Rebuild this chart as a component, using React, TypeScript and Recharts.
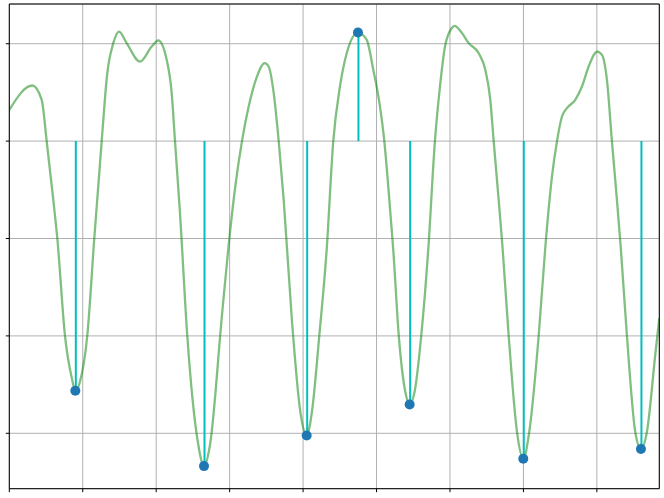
import { ComposedChart, Line, Bar, Scatter, XAxis, YAxis, CartesianGrid } from 'recharts';

// smooth curve
const curveX = [
  0, 0.313, 0.441, 0.509, 0.599, 0.654, 0.758, 0.85, 0.899, 0.963, 1.062, 1.157, 1.258, 1.334, 1.416, 1.494,
  1.598, 1.779, 1.939, 2.029, 2.143, 2.211, 2.256, 2.324, 2.423, 2.573, 2.651, 2.733, 2.896, 2.987, 3.077,
  3.168, 3.259, 3.372, 3.477, 3.531, 3.6, 3.668, 3.736, 3.849, 3.962, 4.049, 4.121, 4.221, 4.321, 4.411,
  4.502, 4.594, 4.747, 4.866, 4.956, 5.04, 5.106, 5.16, 5.228, 5.302, 5.391, 5.451, 5.519, 5.609, 5.704,
  5.795, 5.864, 5.932, 6.023, 6.064, 6.164, 6.255, 6.391, 6.481, 6.549, 6.595, 6.663, 6.713, 6.799, 6.912,
  6.998, 7.08, 7.208, 7.298, 7.389, 7.457, 7.525, 7.593, 7.706, 7.797, 7.888, 8.005, 8.069, 8.137, 8.205,
  8.273, 8.325, 8.409, 8.522, 8.6, 8.682, 8.795, 8.85,
];
const curveY = [
  0.321, 0.571, 0.424, 0, -0.603, -1.0, -1.996, -2.43, -2.564, -2.468, -1.996, -1.0, 0, 0.698, 1.006, 1.125,
  1.006, 0.817, 0.971, 1.033, 0.835, 0.493, 0, -0.739, -1.996, -3.118, -3.337, -3.118, -1.783, -1.065, -0.466,
  0, 0.355, 0.663, 0.801, 0.766, 0.493, 0, -0.603, -1.852, -2.776, -3.023, -2.776, -1.996, -1.116, 0,
  0.561, 0.903, 1.115, 1.04, 0.732, 0.39, 0, -0.466, -1.116, -1.989, -2.571, -2.704, -2.571, -1.996, -1.116,
  0, 0.561, 0.971, 1.16, 1.184, 1.109, 1.006, 0.903, 0.732, 0.424, 0, -0.603, -1.065, -1.996, -2.982,
  -3.262, -2.982, -1.996, -1.09, -0.363, 0, 0.253, 0.339, 0.424, 0.561, 0.766, 0.92, 0.886, 0.629, 0,
  -0.603, -1.09, -1.996, -2.982, -3.162, -2.982, -2.194, -1.817,
];

// stems
const stemX = [0.899, 2.651, 4.049, 4.747, 5.451, 6.998, 8.6];
const stemY = [-2.564, -3.337, -3.023, 1.115, -2.704, -3.262, -3.162];

const xTicks = [0, 1, 2, 3, 4, 5, 6, 7, 8];
const yTicks = [-3, -2, -1, 0, 1];

const curve = curveX.map((x, i) => ({ x, y: curveY[i] }));
const stems = stemX.map((x, i) => ({ x, y: stemY[i] }));

const X_MAX = 8.85;
const Y_MIN = -3.569;
const Y_MAX = 1.408;

const noLabel = () => <g />;

export default function App() {
  return (
    <div style={{ position: 'absolute', left: 0, top: 0 }}>
      <ComposedChart width={664} height={498} data={stems} margin={{ top: 3, left: 8.3, right: 3.7, bottom: 8.3 }}>
        <CartesianGrid stroke="#b0b0b0" strokeWidth={1} />
        <XAxis
          type="number"
          dataKey="x"
          domain={[0, X_MAX]}
          ticks={xTicks}
          allowDataOverflow
          height={1}
          tick={noLabel}
          tickSize={3.5}
          stroke="#000"
          tickLine={{ stroke: '#000' }}
        />
        <YAxis
          type="number"
          domain={[Y_MIN, Y_MAX]}
          ticks={yTicks}
          allowDataOverflow
          width={1}
          tick={noLabel}
          tickSize={3.5}
          stroke="#000"
          tickLine={{ stroke: '#000' }}
        />
        {/* top and right spines */}
        <XAxis
          xAxisId="top"
          orientation="top"
          type="number"
          dataKey="x"
          domain={[0, X_MAX]}
          ticks={xTicks}
          allowDataOverflow
          height={1}
          tick={noLabel}
          tickLine={false}
          stroke="#000"
        />
        <YAxis
          yAxisId="right"
          orientation="right"
          type="number"
          domain={[Y_MIN, Y_MAX]}
          ticks={yTicks}
          allowDataOverflow
          width={1}
          tick={noLabel}
          tickLine={false}
          stroke="#000"
        />
        <Scatter
          data={stems}
          dataKey="y"
          xAxisId="top"
          yAxisId="right"
          isAnimationActive={false}
          shape={() => <g />}
        />
        <Line
          data={curve}
          dataKey="y"
          type="monotone"
          stroke="#008000"
          strokeOpacity={0.5}
          strokeWidth={2.3}
          dot={false}
          isAnimationActive={false}
        />
        <Bar dataKey="y" barSize={2} fill="#00bfbf" isAnimationActive={false} />
        <Scatter
          data={stems}
          dataKey="y"
          fill="#1f77b4"
          isAnimationActive={false}
          shape={(p: any) => <circle cx={p.cx} cy={p.cy} r={5} fill="#1f77b4" />}
        />
      </ComposedChart>
    </div>
  );
}
